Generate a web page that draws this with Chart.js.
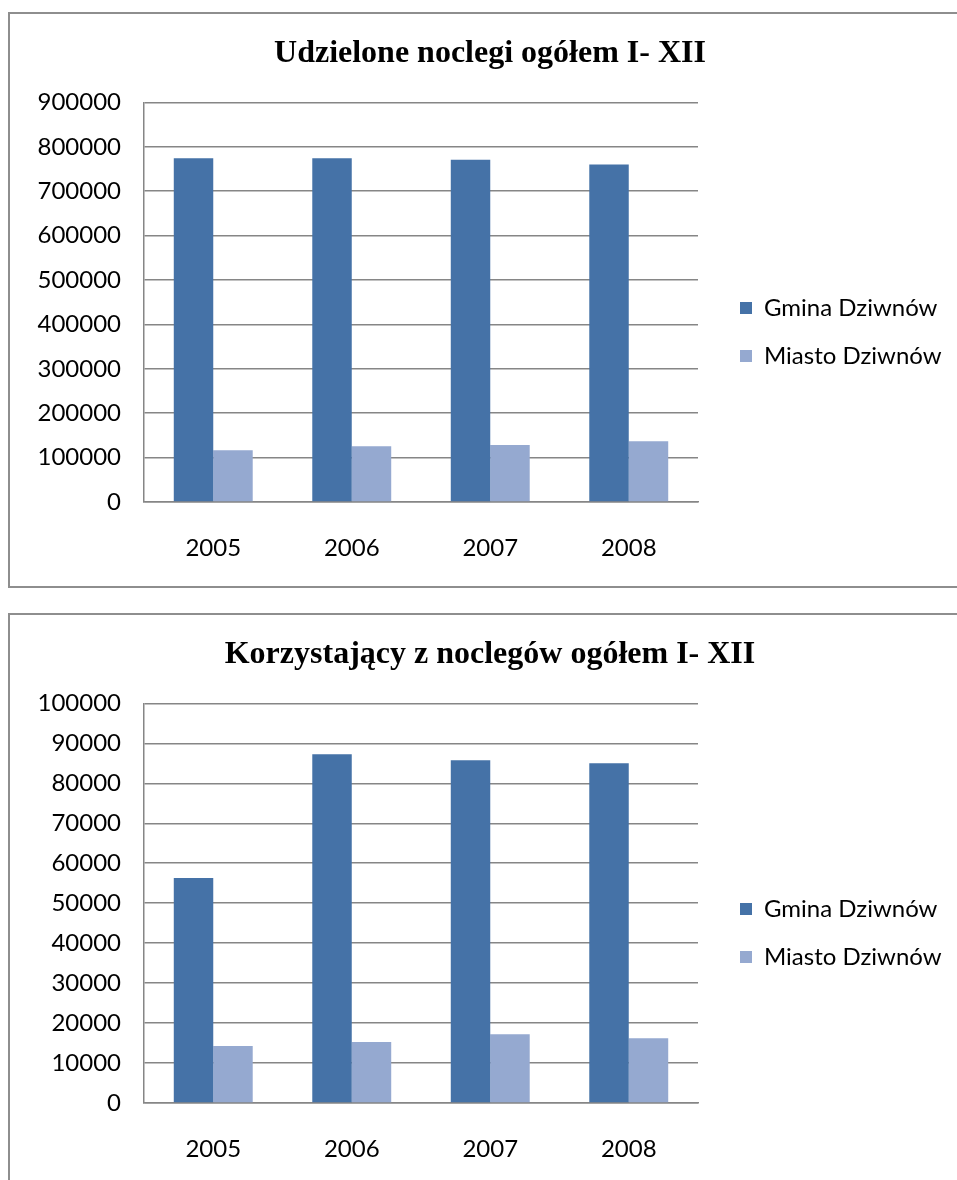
<!DOCTYPE html>
<html>
<head>
<meta charset="utf-8">
<script src="https://cdn.jsdelivr.net/npm/chart.js@4/dist/chart.umd.min.js"></script>
<style>
  html, body { margin: 0; padding: 0; background: #fff; overflow: hidden; width: 957px; height: 1180px; }
  .frame { position: absolute; left: 8px; width: 1000px; border: 2px solid #8e8e8e; box-sizing: border-box; background: #fff; }
  .wrap { position: absolute; left: 10px; width: 962px; height: 572px; }
</style>
</head>
<body>
<div class="frame" style="top:12px; height:576px"></div>
<div class="frame" style="top:613px; height:700px"></div>
<div class="wrap" style="top:14px"><canvas id="chart1"></canvas></div>
<div class="wrap" style="top:615px"><canvas id="chart2"></canvas></div>
<script>
var years = ["2005", "2006", "2007", "2008"];
var seriesNames = ["Gmina Dziwnów", "Miasto Dziwnów"];

var noclegiGmina = [774000, 774000, 771000, 760000];
var noclegiMiasto = [116500, 125500, 128500, 137000];

var korzystajacyGmina = [56300, 87250, 85750, 85000];
var korzystajacyMiasto = [14250, 15250, 17200, 16200];

var darkBlue = '#4572A7';
var lightBlue = '#95A9D0';
var gridGray = '#868686';

function makeChart(id, title, gmina, miasto, maxY, step) {
  var ctx = document.getElementById(id).getContext('2d');
  var chart = new Chart(ctx, {
    type: 'bar',
    data: {
      labels: years,
      datasets: [{
        label: seriesNames[0],
        backgroundColor: darkBlue,
        data: gmina,
      },
      {
        label: seriesNames[1],
        backgroundColor: lightBlue,
        data: miasto,
      }]
    },
    options: {
      responsive: true,
      maintainAspectRatio: false,
      animation: false,
      datasets: { bar: { categoryPercentage: 0.57, barPercentage: 1.0 } },
      layout: { padding: { left: 7, right: 9, top: 0, bottom: 0 } },
      plugins: {
        title: {
          display: true,
          text: title,
          color: '#000',
          font: { family: 'Liberation Serif', size: 32, weight: 'bold' },
          padding: { top: 21, bottom: 29 }
        },
        legend: {
          position: 'right',
          labels: {
            color: '#000',
            font: { family: 'Lato', size: 24 },
            boxWidth: 12,
            boxHeight: 12,
            padding: 24
          }
        },
        tooltip: { enabled: false }
      },
      scales: {
        x: {
          grid: { display: false, drawTicks: false },
          border: { display: true, color: gridGray, width: 1.5 },
          ticks: { color: '#000', font: { family: 'Lato', size: 24 }, padding: 32 },
          afterFit: function(s) { s.height = 84; }
        },
        y: {
          min: 0,
          max: maxY,
          ticks: {
            stepSize: step,
            color: '#000',
            font: { family: 'Lato', size: 24 },
            padding: 23,
            callback: function(v) { return String(v); }
          },
          grid: { color: gridGray, lineWidth: 1.5, drawTicks: false },
          border: { display: true, color: gridGray, width: 1.5 },
          afterFit: function(s) { s.width = 127; }
        },
        spacer: {
          type: 'linear',
          position: 'right',
          display: true,
          grid: { display: false, drawTicks: false },
          border: { display: false },
          ticks: { display: false },
          afterFit: function(s) { s.width = 18; }
        }
      }
    }
  });

  // legend sits right of the plot: fixed width, shifted down a bit like the original
  var lg = chart.legend;
  var fit = lg.fit;
  lg.fit = function() { fit.call(this); this.width = 247; };
  var draw = lg.draw;
  lg.draw = function() {
    this.top += 32; this.bottom += 32;
    draw.call(this);
    this.top -= 32; this.bottom -= 32;
  };
  chart.update();
  return chart;
}

makeChart('chart1', 'Udzielone noclegi ogółem I- XII', noclegiGmina, noclegiMiasto, 900000, 100000);
makeChart('chart2', 'Korzystający z noclegów ogółem I- XII', korzystajacyGmina, korzystajacyMiasto, 100000, 10000);
</script>
</body>
</html>
